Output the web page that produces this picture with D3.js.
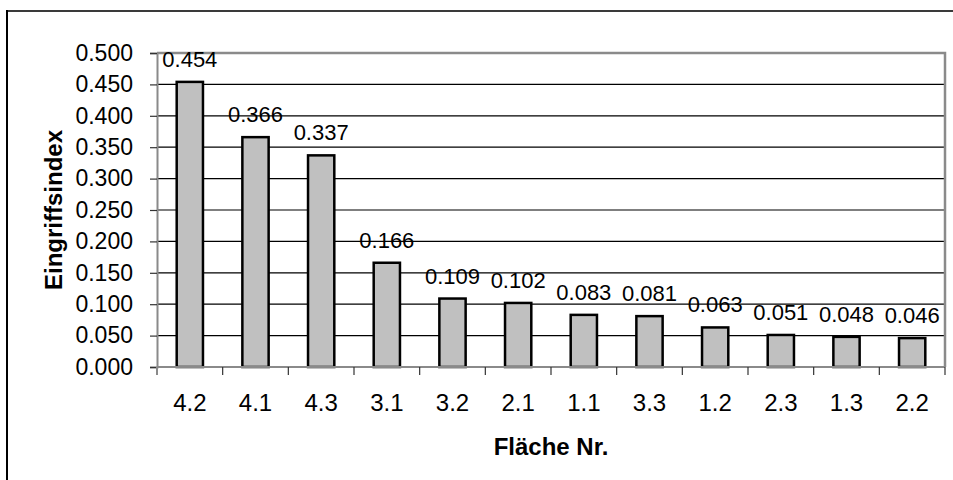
<!DOCTYPE html>
<html>
<head>
<meta charset="utf-8">
<script src="https://cdn.jsdelivr.net/npm/d3@7"></script>
<style>
  body { margin: 0; background: #fff; }
  svg { display: block; font-family: Arial, "Liberation Sans", sans-serif; }
</style>
</head>
<body>
<div class="interactive-wrapper"></div>
<script>
const flaechen = ['4.2','4.1','4.3','3.1','3.2','2.1','1.1','3.3','1.2','2.3','1.3','2.2'];
const eingriffsindex = [0.454,0.366,0.337,0.166,0.109,0.102,0.083,0.081,0.063,0.051,0.048,0.046];
const yTicks = [0,0.05,0.1,0.15,0.2,0.25,0.3,0.35,0.4,0.45,0.5];

const width = 953, height = 480;
const plot = {left: 157, right: 945, top: 53, bottom: 367};

const svg = d3.select('.interactive-wrapper')
  .append('svg')
  .attr('width', width)
  .attr('height', height);

// outer chart frame (only top + left visible in crop)
svg.append('line')
  .attr('x1', 7).attr('x2', width).attr('y1', 11).attr('y2', 11)
  .attr('stroke', '#3a3a3a').attr('stroke-width', 2);
svg.append('line')
  .attr('x1', 7).attr('x2', 7).attr('y1', 10).attr('y2', height)
  .attr('stroke', '#000').attr('stroke-width', 2);

const x = d3.scaleBand()
  .domain(flaechen)
  .range([plot.left, plot.right])
  .paddingInner(0.6)
  .paddingOuter(0.3);

const xb = d3.scaleBand()
  .domain(flaechen)
  .range([plot.left, plot.right]);

const y = d3.scaleLinear()
  .domain([0, 0.5])
  .range([plot.bottom, plot.top]);

const fmt = d3.format('.3f');

// gridlines
svg.append('g')
  .selectAll('line')
  .data(yTicks.filter(d => d > 0 && d < 0.5))
  .join('line')
  .attr('x1', plot.left).attr('x2', plot.right)
  .attr('y1', d => y(d)).attr('y2', d => y(d))
  .attr('stroke', '#000').attr('stroke-width', 1.2);

// plot frame top/right
svg.append('path')
  .attr('d', `M${plot.left},${plot.top}H${plot.right}V${plot.bottom}`)
  .attr('fill', 'none').attr('stroke', '#8a8a8a').attr('stroke-width', 2.5);

// bars
svg.append('g')
  .selectAll('rect')
  .data(eingriffsindex)
  .join('rect')
  .attr('x', (d,i) => x(flaechen[i]))
  .attr('y', d => y(d))
  .attr('width', x.bandwidth())
  .attr('height', d => y(0) - y(d))
  .attr('fill', '#c0c0c0')
  .attr('stroke', '#000')
  .attr('stroke-width', 2.5);

// y axis
const yAxis = svg.append('g')
  .attr('transform', `translate(${plot.left},0)`)
  .call(d3.axisLeft(y).tickValues(yTicks).tickFormat(fmt).tickSize(7).tickPadding(17));
yAxis.select('.domain').attr('stroke', '#8a8a8a').attr('stroke-width', 2);
yAxis.selectAll('.tick line').attr('stroke', '#333').attr('stroke-width', 1.2);
yAxis.selectAll('.tick text')
  .attr('font-size', 23).attr('fill', '#000')
  .attr('font-family', 'Arial, "Liberation Sans", sans-serif');

// x axis
const xAxis = svg.append('g')
  .attr('transform', `translate(0,${plot.bottom})`)
  .call(d3.axisBottom(xb).tickSize(0).tickPadding(27));
xAxis.select('.domain').remove();
xAxis.append('line')
  .attr('x1', plot.left).attr('x2', plot.right)
  .attr('stroke', '#8a8a8a').attr('stroke-width', 2);
xAxis.selectAll('.tick text')
  .attr('font-size', 24).attr('fill', '#000')
  .attr('font-family', 'Arial, "Liberation Sans", sans-serif');
xAxis.append('g')
  .selectAll('line')
  .data(flaechen)
  .join('line')
  .attr('x1', d => xb(d) + xb.bandwidth()).attr('x2', d => xb(d) + xb.bandwidth())
  .attr('y1', 0).attr('y2', 8)
  .attr('stroke', '#333').attr('stroke-width', 1.2);
xAxis.append('line')
  .attr('x1', plot.left).attr('x2', plot.left)
  .attr('y1', 0).attr('y2', 8)
  .attr('stroke', '#8a8a8a').attr('stroke-width', 2);

// value labels
svg.append('g')
  .selectAll('text')
  .data(eingriffsindex)
  .join('text')
  .attr('x', (d,i) => xb(flaechen[i]) + xb.bandwidth() / 2)
  .attr('y', d => y(d) - 15)
  .attr('text-anchor', 'middle')
  .attr('font-size', 22)
  .text(d => fmt(d));

// axis titles
svg.append('text')
  .attr('x', (plot.left + plot.right) / 2)
  .attr('y', 455)
  .attr('text-anchor', 'middle')
  .attr('font-size', 24)
  .attr('font-weight', 'bold')
  .text('Fläche Nr.');

svg.append('text')
  .attr('transform', `translate(62,${(plot.top + plot.bottom) / 2}) rotate(-90)`)
  .attr('text-anchor', 'middle')
  .attr('font-size', 24)
  .attr('font-weight', 'bold')
  .text('Eingriffsindex');
</script>
</body>
</html>
